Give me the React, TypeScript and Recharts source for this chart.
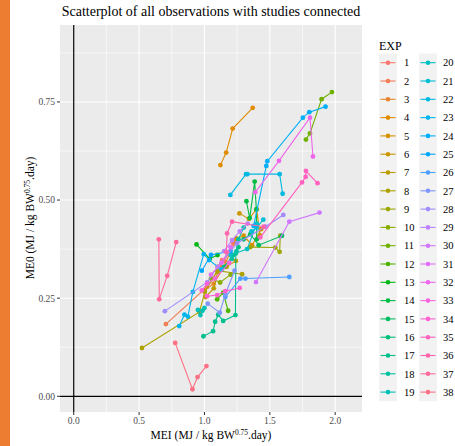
import React from "react";
import { ScatterChart, Scatter, XAxis, YAxis, CartesianGrid, ReferenceLine } from "recharts";

type P = [number, number];

const expNames = Array.from({ length: 38 }, (_, i) => String(i + 1));

const exp01: P[] = [[1.10, 0.33], [1.135, 0.347], [1.153, 0.344], [1.22, 0.39]];
const exp02: P[] = [[0.705, 0.184], [1.02, 0.279], [1.12, 0.33]];
const exp03: P[] = [[1.0, 0.27], [1.071, 0.287], [1.15, 0.33], [1.24, 0.40]];
const exp04: P[] = [[1.122, 0.589], [1.166, 0.621], [1.216, 0.682], [1.369, 0.735]];
const exp05: P[] = [[1.244, 0.402], [1.30, 0.409], [1.364, 0.385], [1.435, 0.426]];
const exp06: P[] = [[1.267, 0.466], [1.34, 0.452], [1.399, 0.477], [1.425, 0.41]];
const exp07: P[] = [[1.008, 0.253], [1.071, 0.275], [1.10, 0.317], [1.17, 0.33], [1.24, 0.345]];
const exp08: P[] = [[0.522, 0.123], [0.962, 0.215], [1.003, 0.266], [1.10, 0.32], [1.288, 0.311]];
const exp09: P[] = [[1.35, 0.38], [1.542, 0.379], [1.575, 0.368], [1.58, 0.409]];
const exp10: P[] = [[1.05, 0.30], [1.12, 0.29], [1.20, 0.31]];
const exp11: P[] = [[1.776, 0.654], [1.807, 0.670], [1.896, 0.757], [1.975, 0.775]];
const exp12: P[] = [[1.097, 0.247], [1.143, 0.264], [1.181, 0.218]];
const exp13: P[] = [[0.939, 0.387], [1.04, 0.35], [1.10, 0.36]];
const exp14: P[] = [[1.321, 0.497], [1.346, 0.454], [1.384, 0.547], [1.397, 0.476], [1.40, 0.40]];
const exp15: P[] = [[1.30, 0.40], [1.351, 0.413], [1.415, 0.385], [1.593, 0.409]];
const exp16: P[] = [[1.15, 0.33], [1.22, 0.36], [1.26, 0.38]];
const exp17: P[] = [[0.992, 0.153], [1.066, 0.166], [1.082, 0.19], [1.105, 0.208], [1.143, 0.192], [1.237, 0.207], [1.24, 0.364]];
const exp18: P[] = [[1.21, 0.35], [1.245, 0.37], [1.26, 0.40], [1.30, 0.43]];
const exp19: P[] = [[0.95, 0.22], [0.969, 0.207], [0.985, 0.218], [1.0, 0.225]];
const exp20: P[] = [[1.20, 0.36], [1.326, 0.375], [1.40, 0.44]];
const exp21: P[] = [[1.36, 0.42], [1.40, 0.43], [1.45, 0.45]];
const exp22: P[] = [[1.198, 0.513], [1.318, 0.566], [1.328, 0.566], [1.575, 0.566], [1.598, 0.516]];
const exp23: P[] = [[0.807, 0.179], [0.847, 0.208], [0.873, 0.203], [0.911, 0.266], [0.995, 0.362], [1.036, 0.347], [1.13, 0.323]];
const exp24: P[] = [[1.376, 0.434], [1.473, 0.587], [1.481, 0.599], [1.753, 0.71], [1.802, 0.724], [1.926, 0.738]];
const exp25: P[] = [[0.98, 0.32], [1.05, 0.36], [1.2, 0.37]];
const exp26: P[] = [[1.16, 0.253], [1.275, 0.30], [1.313, 0.30], [1.649, 0.304]];
const exp27: P[] = [[1.025, 0.236], [1.117, 0.213], [1.16, 0.26], [1.23, 0.32]];
const exp28: P[] = [[0.697, 0.217], [1.02, 0.29], [1.10, 0.33], [1.25, 0.39], [1.466, 0.432], [1.603, 0.462]];
const exp29: P[] = [[1.15, 0.37], [1.211, 0.398], [1.27, 0.42], [1.33, 0.44]];
const exp30: P[] = [[1.394, 0.291], [1.649, 0.445], [1.88, 0.468]];
const exp31: P[] = [[1.05, 0.31], [1.13, 0.34], [1.20, 0.38]];
const exp32: P[] = [[1.389, 0.52], [1.57, 0.60], [1.807, 0.71], [1.83, 0.611]];
const exp33: P[] = [[0.98, 0.27], [1.02, 0.287], [1.08, 0.30], [1.19, 0.34]];
const exp34: P[] = [[1.02, 0.255], [1.097, 0.258], [1.16, 0.268], [1.27, 0.276]];
const exp35: P[] = [[1.427, 0.405], [1.746, 0.545], [1.774, 0.559], [1.776, 0.574], [1.865, 0.543]];
const exp36: P[] = [[1.168, 0.367], [1.173, 0.415], [1.211, 0.445], [1.453, 0.432]];
const exp37: P[] = [[0.651, 0.40], [0.654, 0.247], [0.715, 0.307], [0.784, 0.393]];
const exp38: P[] = [[0.776, 0.136], [0.908, 0.018], [0.947, 0.049], [1.015, 0.077]];

const allExp: P[][] = [
  exp01, exp02, exp03, exp04, exp05, exp06, exp07, exp08, exp09, exp10,
  exp11, exp12, exp13, exp14, exp15, exp16, exp17, exp18, exp19, exp20,
  exp21, exp22, exp23, exp24, exp25, exp26, exp27, exp28, exp29, exp30,
  exp31, exp32, exp33, exp34, exp35, exp36, exp37, exp38,
];

const xTicks = [0, 0.5, 1, 1.5, 2];
const yTicks = [0, 0.25, 0.5, 0.75];
const xMinor = [0.25, 0.75, 1.25, 1.75];
const yMinor = [0.125, 0.375, 0.625, 0.875];

function hcl(h: number, c: number, l: number): string {
  const hr = (h * Math.PI) / 180;
  const U = c * Math.cos(hr);
  const V = c * Math.sin(hr);
  const Y = l > 8 ? Math.pow((l + 16) / 116, 3) : l / 903.3;
  const Xn = 0.95047, Yn = 1.0, Zn = 1.08883;
  const den = Xn + 15 * Yn + 3 * Zn;
  const un = (4 * Xn) / den, vn = (9 * Yn) / den;
  const u = U / (13 * l) + un;
  const v = V / (13 * l) + vn;
  const X = (Y * 9 * u) / (4 * v);
  const Z = (Y * (12 - 3 * u - 20 * v)) / (4 * v);
  const lin = [
    3.2404542 * X - 1.5371385 * Y - 0.4985314 * Z,
    -0.969266 * X + 1.8760108 * Y + 0.041556 * Z,
    0.0556434 * X - 0.2040259 * Y + 1.0572252 * Z,
  ];
  const hex = lin
    .map((t) => {
      const g = t <= 0.0031308 ? 12.92 * t : 1.055 * Math.pow(t, 1 / 2.4) - 0.055;
      const n = Math.round(Math.min(1, Math.max(0, g)) * 255);
      return n.toString(16).padStart(2, "0");
    })
    .join("");
  return "#" + hex;
}

const colors = expNames.map((_, i) => hcl((15 + (i * 360) / 38) % 360, 100, 65));

const FONT = "'Liberation Serif', 'Times New Roman', serif";

const Legend = () => {
  const rowH = 18.3;
  const y0 = 62.7;
  const cols = [
    { kx: 379, lx: 404, start: 0 },
    { kx: 419, lx: 443, start: 19 },
  ];
  return (
    <svg width={455} height={446} style={{ position: "absolute", left: 0, top: 0, pointerEvents: "none" }}>
      <text x={379} y={50} fontSize={12} fontFamily={FONT} fill="#000">EXP</text>
      {cols.map((c, ci) => (
        <g key={ci}>
          <rect x={c.kx} y={y0 - rowH / 2} width={18} height={rowH * 19} fill="#F2F2F2" />
          {Array.from({ length: 19 }, (_, r) => {
            const idx = c.start + r;
            const cy = y0 + r * rowH;
            return (
              <g key={r}>
                <line x1={c.kx + 1.5} x2={c.kx + 16.5} y1={cy} y2={cy} stroke={colors[idx]} strokeWidth={1.1} />
                <circle cx={c.kx + 9} cy={cy} r={2.3} fill={colors[idx]} />
                <text x={c.lx} y={cy + 3.7} fontSize={10.5} fontFamily={FONT} fill="#000">{expNames[idx]}</text>
              </g>
            );
          })}
        </g>
      ))}
    </svg>
  );
};

export default function App() {
  return (
    <div style={{ position: "absolute", left: 0, top: 0, width: 455, height: 446, background: "#fff", overflow: "hidden" }}>
      <div style={{ position: "absolute", left: 0, top: 0, width: 10, height: 446, background: "#ED7D31" }} />
      <ScatterChart width={455} height={446} margin={{ top: 25, right: 93, bottom: 0, left: 0 }}>
        <CartesianGrid fill="#EBEBEB" stroke="#FFFFFF" strokeWidth={1.1} horizontalValues={yTicks} verticalValues={xTicks} />
        {xMinor.map((v) => (
          <ReferenceLine key={"xm" + v} x={v} stroke="#FFFFFF" strokeWidth={0.6} />
        ))}
        {yMinor.map((v) => (
          <ReferenceLine key={"ym" + v} y={v} stroke="#FFFFFF" strokeWidth={0.6} />
        ))}
        <XAxis
          type="number"
          dataKey="x"
          domain={[-0.105, 2.205]}
          allowDataOverflow
          ticks={xTicks}
          tickFormatter={(v: number) => v.toFixed(1)}
          height={34}
          axisLine={false}
          tickSize={3}
          tickMargin={2}
          tickLine={{ stroke: "#333333" }}
          tick={{ fill: "#4D4D4D", fontSize: 9.5, fontFamily: FONT }}
        />
        <YAxis
          type="number"
          dataKey="y"
          domain={[-0.04, 0.946]}
          allowDataOverflow
          ticks={yTicks}
          tickFormatter={(v: number) => v.toFixed(2)}
          width={60}
          axisLine={false}
          tickSize={3}
          tickMargin={2}
          tickLine={{ stroke: "#333333" }}
          tick={{ fill: "#4D4D4D", fontSize: 9.5, fontFamily: FONT }}
        />
        <ReferenceLine x={0} stroke="#000" strokeWidth={1.2} />
        <ReferenceLine y={0} stroke="#000" strokeWidth={1.2} />
        {allExp.map((pts, i) => (
          <Scatter
            key={expNames[i]}
            name={expNames[i]}
            data={[...pts].sort((a, b) => a[0] - b[0]).map(([x, y]) => ({ x, y }))}
            fill={colors[i]}
            line={{ stroke: colors[i], strokeWidth: 1.1 }}
            isAnimationActive={false}
            shape={(p: any) => <circle cx={p.cx} cy={p.cy} r={2.4} fill={colors[i]} />}
          />
        ))}
      </ScatterChart>
      <svg width={455} height={446} style={{ position: "absolute", left: 0, top: 0, pointerEvents: "none" }}>
        <text x={211} y={16} textAnchor="middle" fontSize={14} fontFamily={FONT} fill="#000">
          Scatterplot of all observations with studies connected
        </text>
        <text x={211} y={439} textAnchor="middle" fontSize={11.5} fontFamily={FONT} fill="#000">
          MEI (MJ / kg BW<tspan dy={-4} fontSize={7.5}>0.75</tspan><tspan dy={4}>.day)</tspan>
        </text>
        <text
          x={0}
          y={0}
          transform="translate(34,218) rotate(-90)"
          textAnchor="middle"
          fontSize={11.5}
          fontFamily={FONT}
          fill="#000"
        >
          ME0 (MJ / kg BW<tspan dy={-4} fontSize={7.5}>0.75</tspan><tspan dy={4}>.day)</tspan>
        </text>
      </svg>
      <Legend />
    </div>
  );
}
